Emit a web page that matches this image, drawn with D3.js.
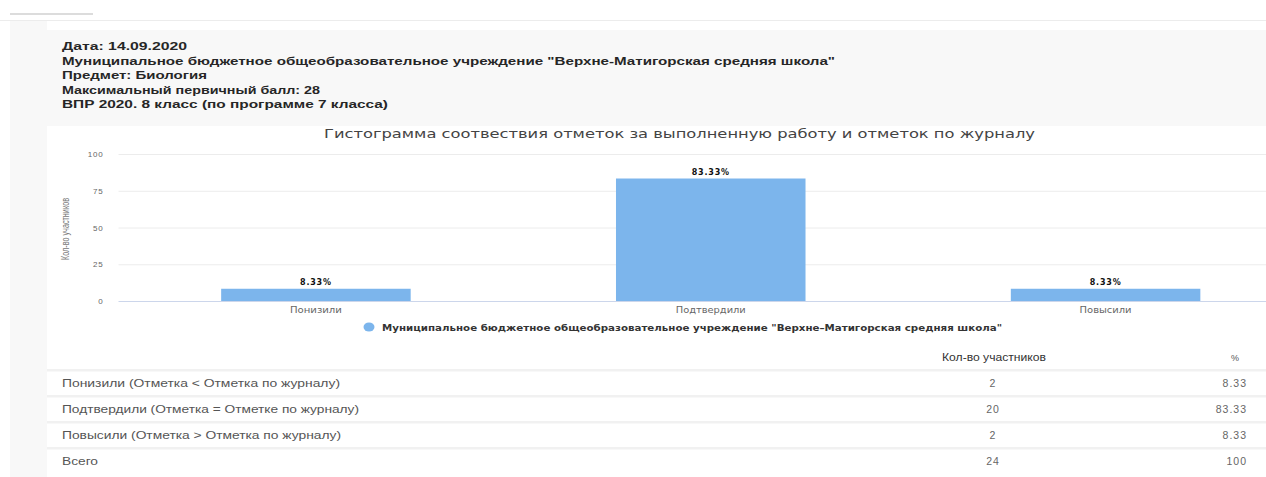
<!DOCTYPE html>
<html><head><meta charset="utf-8">
<script src="https://cdn.jsdelivr.net/npm/d3@7"></script>
<style>
body{margin:0;background:#fff;overflow:hidden}
svg{display:block}
text{font-family:"Liberation Sans",Arial,sans-serif}
.hc{font-family:"DejaVu Sans",Verdana,sans-serif}
</style>
</head><body>
<svg id="c" width="1266" height="477"></svg>
<script>
// ---- data ----
const infoLines = [
  "Дата: 14.09.2020",
  "Муниципальное бюджетное общеобразовательное учреждение \"Верхне-Матигорская средняя школа\"",
  "Предмет: Биология",
  "Максимальный первичный балл: 28",
  "ВПР 2020. 8 класс (по программе 7 класса)"
];
const chartTitle = "Гистограмма соотвествия отметок за выполненную работу и отметок по журналу";
const categories = ["Понизили", "Подтвердили", "Повысили"];
const percents = [8.33, 83.33, 8.33];
const percentLabels = ["8.33%", "83.33%", "8.33%"];
const yTicks = [0, 25, 50, 75, 100];
const yAxisTitle = "Кол-во участников";
const seriesName = "Муниципальное бюджетное общеобразовательное учреждение \"Верхне–Матигорская средняя школа\"";
const tableHeaders = ["Кол-во участников", "%"];
const tableRowLabels = [
  "Понизили (Отметка < Отметка по журналу)",
  "Подтвердили (Отметка = Отметке по журналу)",
  "Повысили (Отметка > Отметка по журналу)",
  "Всего"
];
const tableCounts = ["2", "20", "2", "24"];
const tablePercents = ["8.33", "83.33", "8.33", "100"];

// ---- helpers ----
function fit(sel, w, mode) {
  sel.attr("textLength", w).attr("lengthAdjust", mode || "spacingAndGlyphs");
  return sel;
}

const svg = d3.select("#c");

// page background
svg.append("rect").attr("x", 0).attr("y", 0).attr("width", 1266).attr("height", 477).attr("fill", "#fff");
svg.append("rect").attr("x", 10).attr("y", 20).attr("width", 1256).attr("height", 457).attr("fill", "#f8f8f8");
svg.append("line").attr("x1", 0).attr("x2", 1266).attr("y1", 20.5).attr("y2", 20.5).attr("stroke", "#ececec");
svg.append("line").attr("x1", 10).attr("x2", 93).attr("y1", 14).attr("y2", 14).attr("stroke", "#dcdcdc").attr("stroke-width", 2);
svg.append("rect").attr("x", 47).attr("y", 21).attr("width", 1219).attr("height", 9).attr("fill", "#fff");
svg.append("rect").attr("x", 47).attr("y", 126).attr("width", 1219).attr("height", 351).attr("fill", "#fff");

// info lines
const infoBase = [50, 65, 79, 94, 108];
const infoW = [125, 773, 145, 258, 326];
infoLines.forEach((t, i) => {
  fit(svg.append("text").attr("x", 62).attr("y", infoBase[i])
    .attr("font-size", 11).attr("font-weight", "bold").attr("fill", "#262626").text(t), infoW[i]);
});

// chart title
fit(svg.append("text").attr("class", "hc").attr("x", 324).attr("y", 138).attr("font-size", 12)
  .attr("fill", "#444").text(chartTitle), 711);

// scales
const y = d3.scaleLinear().domain([0, 100]).range([301, 154]);
const x = d3.scaleBand().domain(categories).range([118.5, 1303]).paddingInner(0.52).paddingOuter(0.26);

// grid + y axis
const yAxis = d3.axisLeft(y).tickValues(yTicks).tickSize(-(1303 - 118.5)).tickPadding(15);
const gy = svg.append("g").attr("transform", "translate(118.5,0)").call(yAxis);
gy.select(".domain").remove();
gy.selectAll(".tick line").attr("stroke", d => d === 0 ? "#ccd6eb" : "#ececec");
gy.selectAll(".tick text").attr("font-size", 8).attr("fill", "#666").attr("letter-spacing", "0.8px")
  .attr("font-family", "DejaVu Sans, Verdana, sans-serif");

// y axis title
fit(svg.append("text").attr("transform", "translate(69,229) rotate(-90)").attr("text-anchor", "middle")
  .attr("font-size", 10).attr("fill", "#777").text(yAxisTitle), 62);

// bars
svg.append("g").selectAll("rect").data(categories).join("rect")
  .attr("x", d => x(d)).attr("width", x.bandwidth())
  .attr("y", (d, i) => y(percents[i])).attr("height", (d, i) => y(0) - y(percents[i]))
  .attr("fill", "#7cb5ec");

// data labels
svg.append("g").selectAll("text").data(categories).join("text")
  .attr("class", "hc")
  .attr("x", d => x(d) + x.bandwidth() / 2).attr("y", (d, i) => y(percents[i]) - 4)
  .attr("text-anchor", "middle").attr("font-size", 8).attr("font-weight", "bold")
  .attr("fill", "#111").attr("letter-spacing", "0.8px")
  .attr("stroke", "#fff").attr("stroke-width", 2).attr("paint-order", "stroke")
  .text((d, i) => percentLabels[i]);

// x labels
const xW = [52, 70, 52];
svg.append("g").selectAll("text").data(categories).join("text")
  .attr("class", "hc")
  .attr("x", d => x(d) + x.bandwidth() / 2).attr("y", 313)
  .attr("text-anchor", "middle").attr("font-size", 9).attr("fill", "#666")
  .text(d => d)
  .each(function (d, i) { fit(d3.select(this), xW[i]); });

// legend
svg.append("ellipse").attr("cx", 369).attr("cy", 327).attr("rx", 5.5).attr("ry", 4.5).attr("fill", "#7cb5ec");
fit(svg.append("text").attr("class", "hc").attr("x", 382).attr("y", 330.5).attr("font-size", 8.5).attr("font-weight", "bold")
  .attr("fill", "#333").text(seriesName), 620);

// table
fit(svg.append("text").attr("x", 942).attr("y", 361).attr("font-size", 10).attr("fill", "#333").text(tableHeaders[0]), 104);
svg.append("text").attr("x", 1235).attr("y", 361).attr("text-anchor", "middle").attr("font-size", 9).attr("fill", "#555").text(tableHeaders[1]);

const sepY = [370, 396, 422, 448];
svg.append("g").selectAll("rect").data(sepY).join("rect")
  .attr("x", 47).attr("width", 1219).attr("y", d => d - 1).attr("height", 2.5).attr("fill", "#f1f1f1");

const rowY = [387, 413, 439, 465];
const rowW = [278, 297, 279, 36];
tableRowLabels.forEach((t, i) => {
  fit(svg.append("text").attr("x", 62).attr("y", rowY[i]).attr("font-size", 10.5).attr("fill", "#555").text(t), rowW[i]);
  svg.append("text").attr("x", 993).attr("y", rowY[i]).attr("text-anchor", "middle").attr("font-size", 10.5)
    .attr("fill", "#666").attr("letter-spacing", "1px").text(tableCounts[i]);
  svg.append("text").attr("x", 1247).attr("y", rowY[i]).attr("text-anchor", "end").attr("font-size", 10.5)
    .attr("fill", "#666").attr("letter-spacing", "1px").text(tablePercents[i]);
});
</script>
</body></html>
